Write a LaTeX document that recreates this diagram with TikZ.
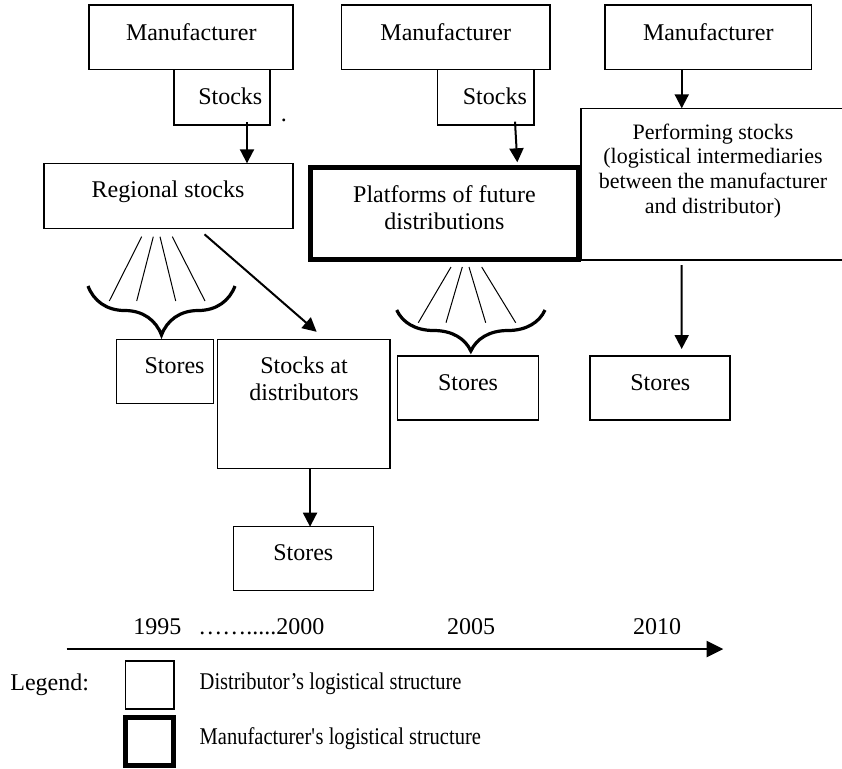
\documentclass[tikz,border=0pt]{standalone}
\usepackage{fontspec}
\setmainfont{Liberation Serif}
\newfontfamily\narrowfont[FakeStretch=0.855]{Liberation Serif}
\usetikzlibrary{arrows.meta, decorations.pathreplacing}

\tikzset{
    box/.style={draw, line width=0.75pt, inner sep=0pt, outer sep=0pt},
    mbox/.style={box, line width=2.5pt},
    lbl/.style={font=\fontsize{12}{13.5}\selectfont, inner sep=0pt, anchor=base, align=center},
    arr/.style={-{Triangle[length=7pt, width=7pt]}, line width=1pt},
    fan/.style={line width=0.5pt},
    brc/.style={decorate, line width=1.6pt, decoration={brace, mirror, amplitude=#1}},
}

\begin{document}
\begin{tikzpicture}[x=0.5pt, y=-0.5pt]
    \useasboundingbox (0, 0) rectangle (842, 768);

    % boxes
    \node[box, minimum width=102pt, minimum height=32.15pt] (man1) at (191, 37.2) {};
    \node[box, minimum width=104.25pt, minimum height=32.15pt] (man2) at (445.75, 37.2) {};
    \node[box, minimum width=103.35pt, minimum height=32.15pt] (man3) at (708.35, 37.2) {};
    \node[box, minimum width=48pt, minimum height=27.85pt] (sto1) at (222, 97.15) {};
    \node[box, minimum width=48.35pt, minimum height=27.85pt] (sto2) at (485.65, 97.15) {};
    \node[box, minimum width=124.5pt, minimum height=32.5pt] (reg) at (168.5, 195.8) {};
    \node[mbox, minimum width=134pt, minimum height=46pt] (plat) at (444.5, 213.5) {};
    \node[box, minimum width=132pt, minimum height=75.85pt] (perf) at (713, 184.15) {};
    \node[box, minimum width=48.3pt, minimum height=32pt] (st1) at (165, 371.3) {};
    \node[box, minimum width=86.35pt, minimum height=64.5pt] (sad) at (303.65, 403.8) {};
    \node[box, minimum width=70pt, minimum height=32pt] (st2) at (303.3, 558.7) {};
    \node[box, minimum width=70.3pt, minimum height=32pt] (st3) at (468, 388) {};
    \node[box, minimum width=70pt, minimum height=32pt] (st4) at (660, 388) {};
    \node[box, minimum width=24.35pt, minimum height=24pt] (leg1) at (149.65, 685) {};
    \node[mbox, minimum width=24pt, minimum height=24pt] (leg2) at (149.5, 741.5) {};

    % texts
    \node[lbl] (man1-l) at (191.3, 40) {Manufacturer};
    \node[lbl] (man2-l) at (445.75, 40) {Manufacturer};
    \node[lbl] (man3-l) at (708.3, 40) {Manufacturer};
    \node[lbl, anchor=base east] (sto1-l) at (262.7, 104) {Stocks};
    \node[lbl, anchor=base east] (sto2-l) at (527.3, 104) {Stocks};
    \node[lbl, anchor=base west] (dot) at (280.5, 121) {.};
    \node[lbl] (reg-l) at (168, 197.3) {Regional stocks};
    \node[lbl] (plat-l) at (444.5, 229.3) {Platforms of future\\distributions};
    \node[lbl, font=\fontsize{11}{12.35}\selectfont] (perf-l) at (713, 213.3)
        {Performing stocks\\(logistical intermediaries\\between the manufacturer\\and distributor)};
    \node[lbl] (st1-l) at (174.5, 373.3) {Stores};
    \node[lbl] (sad-l) at (304, 400.7) {Stocks at\\distributors};
    \node[lbl] (st2-l) at (303.3, 560.7) {Stores};
    \node[lbl] (st3-l) at (468, 390.7) {Stores};
    \node[lbl] (st4-l) at (660.3, 390.7) {Stores};

    % arrows
    \draw[arr] ([xshift=12.5pt, yshift=1.5pt]sto1.south) -- ([xshift=12.5pt]sto1.south |- reg.north);
    \draw[arr] ([shift={(29.35, -3.3)}]sto2.south) -- ([shift={(72.8, -5.2)}]plat.north);
    \draw[arr] ([xshift=-13.3pt]man3.south) -- ([xshift=-13.3pt]man3.south |- perf.north);
    \draw[arr] ([shift={(-31.3, 5)}]perf.south) -- ([shift={(21.7, -7)}]st4.north);
    \draw[arr] ([shift={(36, 6)}]reg.south) -- ([shift={(13, -7.5)}]sad.north);
    \draw[arr] ([xshift=3.2pt]sad.south) -- ([xshift=3.2pt]sad.south |- st2.north);

    % fans and braces
    \foreach \a/\b in {141.7/109.3, 153.3/136.7, 160/175.7, 172.3/205} {
        \draw[fan] (\a, 236.7) -- (\b, 301);
    }
    \foreach \a/\b in {451/418.3, 462.3/446, 469/485.7, 481.7/515.7} {
        \draw[fan] (\a, 267) -- (\b, 322.7);
    }
    \draw[brc=24.5pt] (88, 286) -- (235, 286);
    \draw[brc=20.5pt] (396.7, 310) -- (545, 310);

    % time axis
    \coordinate (t0) at (66.7, 649);
    \coordinate (t1) at (723.3, 649);
    \draw[-{Triangle[length=8.3pt, width=8pt]}, line width=1pt] (t0) -- (t1);
    \node[lbl] (y95) at (157.5, 634.3) {1995};
    \node[lbl, anchor=base west] (y00) at (198, 634.3) {…….....2000};
    \node[lbl] (y05) at (471, 634.3) {2005};
    \node[lbl] (y10) at (657, 634.3) {2010};

    % legend
    \node[lbl, anchor=base west] (leg) at (10, 690) {Legend:};
    \node[lbl, anchor=base west, font=\fontsize{12}{13.5}\narrowfont] (leg1-l) at (199.3, 689.3)
        {Distributor’s logistical structure};
    \node[lbl, anchor=base west, font=\fontsize{12}{13.5}\narrowfont] (leg2-l) at (199.3, 744)
        {Manufacturer\textquotesingle s logistical structure};
\end{tikzpicture}
\end{document}
